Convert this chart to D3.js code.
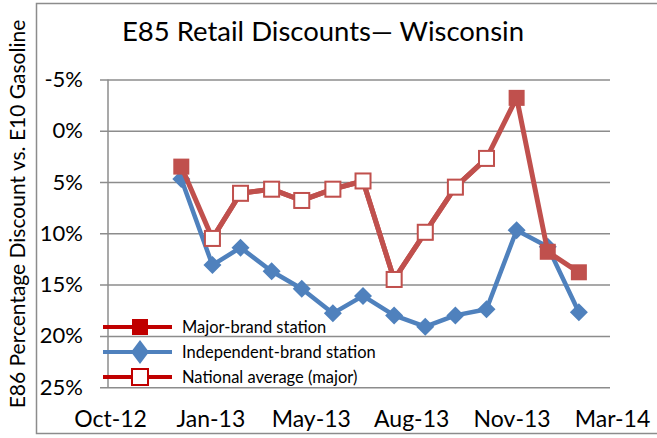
<!DOCTYPE html>
<html>
<head>
<meta charset="utf-8">
<script src="https://cdn.jsdelivr.net/npm/d3@7"></script>
<style>
  body { margin: 0; background: #fff; }
  text { font-family: Lato, "Open Sans", sans-serif; fill: #000; }
</style>
</head>
<body>
<div id="chart"></div>
<script>
// chart data
var months = ["2013-01-01", "2013-02-01", "2013-03-01", "2013-04-01", "2013-05-01",
  "2013-06-01", "2013-07-01", "2013-08-01", "2013-09-01", "2013-10-01",
  "2013-11-01", "2013-12-01", "2014-01-01", "2014-02-01"];
var majorBrand = [3.5, 10.5, 6.1, 5.7, 6.8, 5.7, 4.9, 14.5, 9.9, 5.5, 2.7, -3.2, 11.8, 13.8];
var independent = [4.7, 13.1, 11.4, 13.7, 15.4, 17.8, 16.1, 18.0, 19.1, 18.0, 17.4, 9.7, 11.3, 17.7];
var nationalAvg = [null, 10.5, 6.1, 5.7, 6.8, 5.7, 4.9, 14.5, 9.9, 5.5, 2.7, null, null, null];
var xTicks = ["2012-10-20", "2013-01-28", "2013-05-08", "2013-08-16", "2013-11-24", "2014-03-04"];
var yTicks = [-5, 0, 5, 10, 15, 20, 25];
var seriesNames = ["Major-brand station", "Independent-brand station", "National average (major)"];

var svgWidth = 657;
var svgHeight = 438;

var red = "#c0504d";
var legendRed = "#c00000";
var blue = "#4f81bd";
var grid = "#8c8c8c";

var parseDate = d3.timeParse("%Y-%m-%d");
var dates = months.map(parseDate);
var tickDates = xTicks.map(parseDate);

var svg = d3.select("#chart")
  .append("svg")
  .attr("width", svgWidth)
  .attr("height", svgHeight);

// chart frame
svg.append("rect")
  .attr("x", 36.5)
  .attr("y", 3.5)
  .attr("width", 640)
  .attr("height", 430)
  .attr("fill", "none")
  .attr("stroke", grid)
  .attr("stroke-width", 1.5);

// scales
var xScale = d3.scaleTime()
  .domain([tickDates[0], tickDates[tickDates.length - 1]])
  .range([108, 610]);

var yScale = d3.scaleLinear()
  .domain([-5, 25])
  .range([79.4, 387.2]);

// gridlines + y axis
var leftAxis = d3.axisLeft(yScale)
  .tickValues(yTicks)
  .tickSize(-(610 - 100))
  .tickPadding(25)
  .tickFormat(d => d + "%");

var yAxis = svg.append("g")
  .attr("transform", "translate(108,0)")
  .call(leftAxis);

yAxis.select(".domain").remove();
yAxis.selectAll(".tick line")
  .attr("x1", -8)
  .attr("x2", 502)
  .attr("stroke", grid)
  .attr("stroke-width", 1.5);
yAxis.selectAll(".tick text")
  .attr("font-size", 22)
  .attr("font-family", "Lato");

svg.append("line")
  .attr("x1", 108).attr("x2", 108)
  .attr("y1", yScale(-5)).attr("y2", yScale(25))
  .attr("stroke", grid)
  .attr("stroke-width", 1.5);

// x axis labels, no tick marks
var bottomAxis = d3.axisBottom(xScale)
  .tickValues(tickDates)
  .tickSize(0)
  .tickPadding(0)
  .tickFormat(d3.timeFormat("%b-%y"));

var xAxis = svg.append("g")
  .attr("transform", "translate(2,411)")
  .call(bottomAxis);
xAxis.select(".domain").remove();
xAxis.selectAll(".tick text")
  .attr("font-size", 23)
  .attr("font-family", "Lato");

// title
svg.append("text")
  .attr("x", 323)
  .attr("y", 41)
  .attr("text-anchor", "middle")
  .attr("font-size", 27.5)
  .text("E85 Retail Discounts\u2014 Wisconsin");

// y axis title
svg.append("text")
  .attr("transform", "translate(25,214) rotate(-90)")
  .attr("text-anchor", "middle")
  .attr("font-size", 21)
  .text("E86 Percentage Discount vs. E10 Gasoline");

function makeLine(values) {
  return d3.line()
    .defined((d, i) => values[i] !== null)
    .x((d, i) => xScale(dates[i]))
    .y((d, i) => yScale(values[i]))(values);
}

// independent-brand series
svg.append("path")
  .attr("d", makeLine(independent))
  .attr("fill", "none")
  .attr("stroke", blue)
  .attr("stroke-width", 4.5)
  .attr("stroke-linejoin", "round");

svg.selectAll(".diamond")
  .data(independent)
  .enter()
  .append("path")
  .attr("class", "diamond")
  .attr("d", "M0,-9L9,0L0,9L-9,0Z")
  .attr("transform", (d, i) => `translate(${xScale(dates[i])},${yScale(d)})`)
  .attr("fill", blue);

// major-brand series
svg.append("path")
  .attr("d", makeLine(majorBrand))
  .attr("fill", "none")
  .attr("stroke", red)
  .attr("stroke-width", 5)
  .attr("stroke-linejoin", "round");

svg.selectAll(".filled")
  .data(majorBrand)
  .enter()
  .append("rect")
  .attr("class", "filled")
  .attr("x", (d, i) => xScale(dates[i]) - 8)
  .attr("y", d => yScale(d) - 8)
  .attr("width", 16)
  .attr("height", 16)
  .attr("fill", red);

// national average series
svg.append("path")
  .attr("d", makeLine(nationalAvg))
  .attr("fill", "none")
  .attr("stroke", red)
  .attr("stroke-width", 5)
  .attr("stroke-linejoin", "round");

svg.selectAll(".hollow")
  .data(nationalAvg.map((v, i) => ({v: v, i: i})).filter(d => d.v !== null))
  .enter()
  .append("rect")
  .attr("class", "hollow")
  .attr("x", d => xScale(dates[d.i]) - 7.5)
  .attr("y", d => yScale(d.v) - 7.5)
  .attr("width", 15)
  .attr("height", 15)
  .attr("fill", "#fff")
  .attr("stroke", red)
  .attr("stroke-width", 2);

// legend
var legendY = [327, 352, 377];
var legendColors = [legendRed, blue, legendRed];

var legend = svg.selectAll(".legend")
  .data(seriesNames)
  .enter()
  .append("g")
  .attr("class", "legend")
  .attr("transform", (d, i) => `translate(0,${legendY[i]})`);

legend.append("line")
  .attr("x1", 103)
  .attr("x2", 172)
  .attr("stroke", (d, i) => legendColors[i])
  .attr("stroke-width", 4);

legend.append("text")
  .attr("x", 182)
  .attr("dy", "0.35em")
  .attr("font-size", 16.5)
  .text(d => d);

legend.filter((d, i) => i === 0)
  .append("rect")
  .attr("x", 132).attr("y", -8)
  .attr("width", 16).attr("height", 16)
  .attr("fill", legendRed);

legend.filter((d, i) => i === 1)
  .append("path")
  .attr("d", "M140,-12L149,0L140,12L131,0Z")
  .attr("fill", blue);

legend.filter((d, i) => i === 2)
  .append("rect")
  .attr("x", 132).attr("y", -8)
  .attr("width", 16).attr("height", 16)
  .attr("fill", "#fff")
  .attr("stroke", legendRed)
  .attr("stroke-width", 2);
</script>
</body>
</html>
